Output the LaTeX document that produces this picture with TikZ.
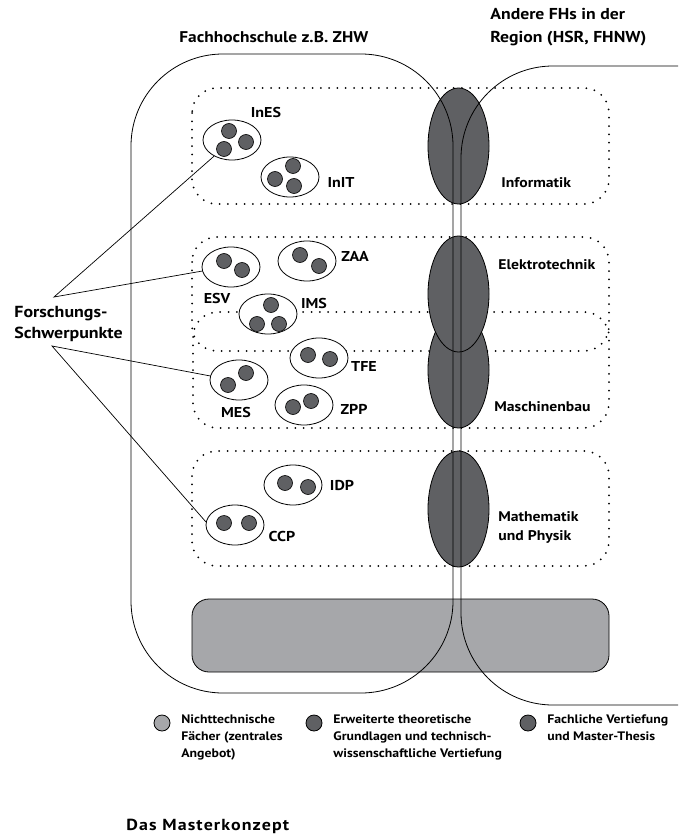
\documentclass[tikz,border=0pt]{standalone}
\usepackage{fontspec}
\setmainfont{PT Sans}[FakeStretch=1.12]
\usetikzlibrary{shapes.geometric}
\definecolor{dk}{HTML}{5F6063}
\definecolor{lt}{HTML}{A6A7AA}
\begin{document}
\begin{tikzpicture}[x=1pt,y=-1pt,
  line width=0.8pt,
  lbl/.style={font=\bfseries\fontsize{14.3}{17}\selectfont, inner sep=0pt},
  dept/.style={font=\bfseries\fontsize{14}{19}\selectfont, inner sep=0pt, anchor=west, align=left},
  leg/.style={font=\bfseries\fontsize{12.3}{17}\selectfont, inner sep=0pt, anchor=north west, align=left},
  grp/.style={draw, ellipse, fill=white, minimum width=58pt, minimum height=40pt, inner sep=0pt},
  fach/.style={draw, ellipse, fill=dk, minimum width=61pt, minimum height=116pt, inner sep=0pt},
  dotbox/.style={line width=2pt, dash pattern=on 0pt off 8.3pt, line cap=round, rounded corners=25pt},
  gdot/.style={draw, circle, fill=dk, minimum size=15pt, inner sep=0pt, line width=0.6pt},
  conn/.style={line width=0.7pt}
]
\useasboundingbox (0,0) rectangle (684,834);

% bottom grey block
\node[draw, fill=lt, rounded corners=17pt, minimum width=417pt, minimum height=73pt, inner sep=0pt] (base) at (400.5,635.5) {};

% dotted department boxes
\draw[dotbox] (192,88) rectangle (609,204);
\draw[dotbox] (192,237) rectangle (609,351);
\draw[dotbox] (193,312) rectangle (609,428);
\draw[dotbox] (192,451) rectangle (609,566);

% dark ellipses
\node[fach] (e1) at (458.5,146) {};
\node[fach] (e3) at (458.5,370) {};
\node[fach] (e2) at (458.5,294) {};
\node[fach] (e4) at (458.5,509) {};

% school outlines
\draw[rounded corners=92pt] (131,54) rectangle (453,693);
\draw[rounded corners=92pt] (678,66) -- (461,66) -- (461,705) -- (678,705);

% research groups
\node[grp] (ines) at (232,140) {};
\node[gdot] at (229,131) {}; \node[gdot] at (246,142) {}; \node[gdot] at (224,149) {};
\node[grp] (init) at (290,177) {};
\node[gdot] at (293,166) {}; \node[gdot] at (275,179) {}; \node[gdot] at (294,186) {};
\node[grp] (esv) at (231,267) {};
\node[gdot] at (224,261) {}; \node[gdot] at (242,270) {};
\node[grp] (zaa) at (307,261) {};
\node[gdot] at (300,255) {}; \node[gdot] at (319,266) {};
\node[grp] (ims) at (268,314) {};
\node[gdot] at (271,305) {}; \node[gdot] at (257,324) {}; \node[gdot] at (279,324) {};
\node[grp] (tfe) at (319,358) {};
\node[gdot] at (308,355) {}; \node[gdot] at (330,359) {};
\node[grp] (mes) at (239,380) {};
\node[gdot] at (246,373) {}; \node[gdot] at (228,385) {};
\node[grp] (zpp) at (304,405) {};
\node[gdot] at (293,407) {}; \node[gdot] at (311,401) {};
\node[grp] (idp) at (293,485) {};
\node[gdot] at (285,483) {}; \node[gdot] at (308,487) {};
\node[grp] (ccp) at (235,525) {};
\node[gdot] at (224,523) {}; \node[gdot] at (249,523) {};

% group labels
\node[lbl] (lines) at (266,112) {InES};
\node[lbl] (linit) at (341,182) {InIT};
\node[lbl] (lesv) at (217,298) {ESV};
\node[lbl] (lzaa) at (355,256) {ZAA};
\node[lbl] (lims) at (314,303) {IMS};
\node[lbl] (ltfe) at (364,366) {TFE};
\node[lbl] (lmes) at (236,412) {MES};
\node[lbl] (lzpp) at (354,409) {ZPP};
\node[lbl] (lidp) at (342,485) {IDP};
\node[lbl] (lccp) at (282,536) {CCP};

% department labels
\node[dept] (dinf) at (501,183) {Informatik};
\node[dept] (delt) at (498,265) {Elektrotechnik};
\node[dept] (dmas) at (494,407) {Maschinenbau};
\node[dept, anchor=north west] (dmat) at (498,511) {Mathematik\\und Physik};

% titles
\node[lbl, anchor=west, font=\bfseries\fontsize{15.5}{17}\selectfont] (tfh) at (179,37) {Fachhochschule z.B. ZHW};
\node[lbl, anchor=north west, align=left, font=\bfseries\fontsize{15.8}{23}\selectfont] (tand) at (490,8) {Andere FHs in der\\Region (HSR, FHNW)};

% Forschungs-Schwerpunkte
\node[lbl, anchor=north west, align=left, font=\bfseries\fontsize{16}{21}\selectfont] (fs) at (14,306) {Forschungs-\\Schwerpunkte};
\coordinate (fs1) at (54,297);
\coordinate (fs2) at (52,346);
\draw[conn] (ines.222) -- (fs1) -- (esv.188);
\draw[conn] (mes.172) -- (fs2) -- (ccp.174);

% legend
\node[draw, circle, fill=lt, minimum size=16pt, inner sep=0pt] (c1) at (162,723) {};
\node[leg] (t1) at (181,714) {Nichttechnische\\Fächer (zentrales\\Angebot)};
\node[draw, circle, fill=dk, minimum size=16pt, inner sep=0pt] (c2) at (314,723) {};
\node[leg] (t2) at (333,714) {Erweiterte theoretische\\Grundlagen und technisch-\\wissenschaftliche Vertiefung};
\node[draw, circle, fill=dk, minimum size=16pt, inner sep=0pt] (c3) at (528,723) {};
\node[leg] (t3) at (547,714) {Fachliche Vertiefung\\und Master-Thesis};

% caption
\node[lbl, anchor=west, font=\bfseries\fontsize{16}{18}\selectfont\addfontfeatures{LetterSpace=7}] (cap) at (126,826) {Das Masterkonzept};
\end{tikzpicture}
\end{document}
